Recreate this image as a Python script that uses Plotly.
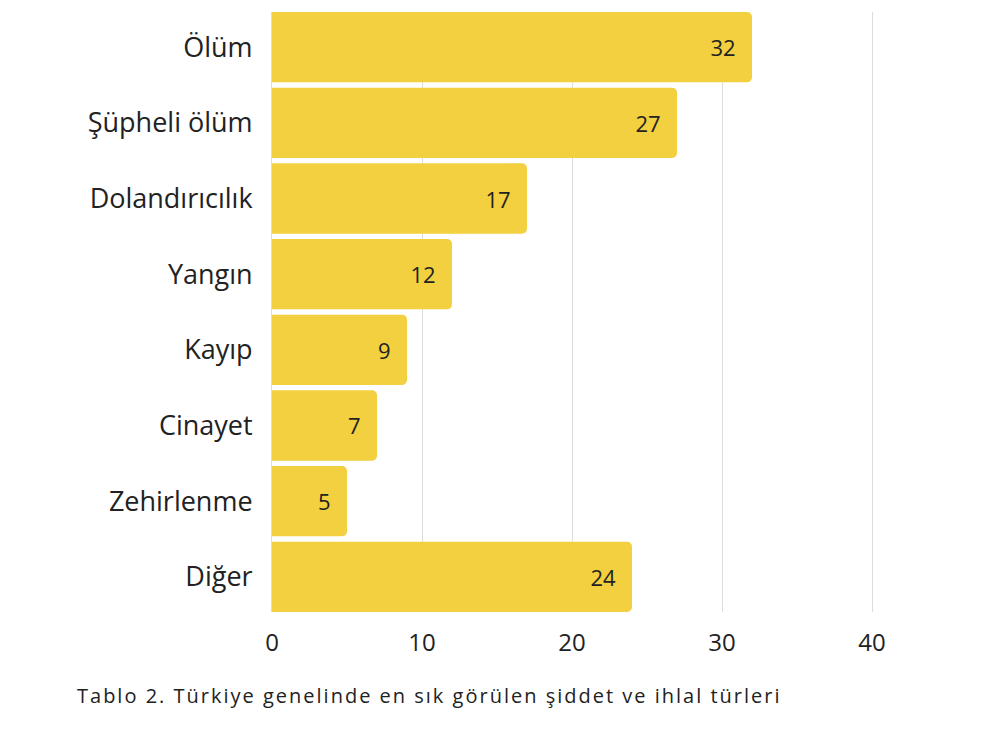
import plotly.graph_objects as go

categories = ["Ölüm", "Şüpheli ölüm", "Dolandırıcılık", "Yangın", "Kayıp", "Cinayet", "Zehirlenme", "Diğer"]
values = [32, 27, 17, 12, 9, 7, 5, 24]
x_ticks = [0, 10, 20, 30, 40]
caption = "Tablo 2. Türkiye genelinde en sık görülen şiddet ve ihlal türleri"

FONT = "Open Sans"
TXT = "#222222"
PAD = "\u00a0\u00a0"
GAP = 0.07

fig = go.Figure(go.Bar(
    x=values,
    y=categories,
    orientation="h",
    marker=dict(color="#F2D03F", line=dict(width=0), cornerradius=5),
    text=[str(v) + PAD for v in values],
    textposition="inside",
    insidetextanchor="end",
    textfont=dict(family=FONT, size=22, color=TXT),
    cliponaxis=False,
))

half = (1 - GAP) / 2
fig.update_layout(
    width=1000, height=733,
    paper_bgcolor="white", plot_bgcolor="white",
    margin=dict(l=264, r=76, t=4, b=129),
    bargap=GAP,
    showlegend=False,
    font=dict(family=FONT, color=TXT),
    xaxis=dict(
        range=[0, 44], tickvals=x_ticks, showgrid=True, gridcolor="#dddddd", gridwidth=1,
        zeroline=False, showline=False, ticks="", ticklabelstandoff=14,
        tickfont=dict(family=FONT, size=24, color=TXT), fixedrange=True,
    ),
    yaxis=dict(
        categoryorder="array", categoryarray=categories[::-1],
        range=[-half, len(categories) - 1 + half],
        showline=True, linecolor="#dddddd", linewidth=1, showgrid=False,
        ticks="", ticklabelstandoff=13,
        tickfont=dict(family=FONT, size=27, color=TXT),
    ),
    annotations=[dict(
        text='<span style="letter-spacing:2px">' + caption + '</span>',
        xref="paper", yref="paper", x=(67 - 264) / 660, y=0,
        xanchor="left", yanchor="middle", yshift=-83, showarrow=False,
        font=dict(family=FONT, size=20, color=TXT),
    )],
)

fig.write_html("out.html")
